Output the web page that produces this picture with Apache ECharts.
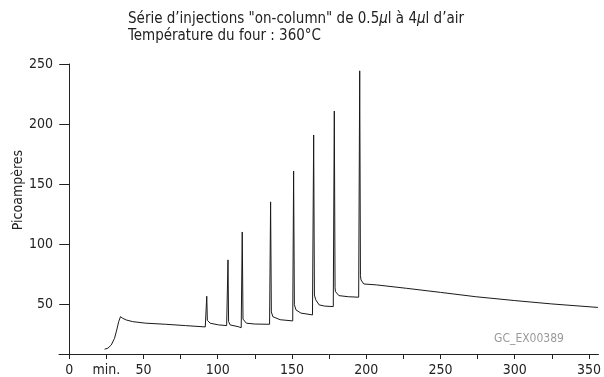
<!DOCTYPE html>
<html>
<head>
<meta charset="utf-8">
<script src="https://cdn.jsdelivr.net/npm/echarts@6/dist/echarts.min.js"></script>
<style>
	html, body { margin: 0; padding: 0; background: #fff; }
	#chart { width: 604px; height: 377px; }
</style>
</head>
<body>
<div id="chart"></div>
<script>
var times = [
	23.8, 26.0, 28.3, 30.5, 32.0, 33.3, 34.5, 36.0, 38.3, 42.7, 51.6, 64.9, 78.3, 91.6,
	92.3, 92.6, 93.0, 94.9, 100.5, 106.0,
	106.7, 106.9, 107.3, 108.3, 113.8, 115.8,
	116.3, 116.5, 117.0, 119.3, 125.0, 134.9,
	135.4, 135.6, 136.1, 137.1, 142.0, 150.5,
	150.9, 151.1, 151.6, 152.7, 156.0, 163.8,
	164.3, 164.6, 165.1, 166.0, 168.3, 172.0, 177.8,
	178.3, 178.5, 179.0, 179.3, 181.6, 188.0, 194.9,
	195.4, 195.6, 196.1, 196.5, 198.3, 207.1, 227.1, 250.0, 273.8, 300.0, 325.0, 356.0
];
var picoamps = [
	13.0, 13.8, 16.5, 22.1, 29.0, 35.9, 40.0, 38.7, 37.3, 35.9, 34.6, 33.7, 32.6, 31.5,
	31.4, 57.0, 37.0, 34.6, 33.2, 32.6,
	32.5, 87.2, 36.0, 33.2, 31.7, 30.9,
	31.0, 110.4, 38.0, 34.6, 33.9, 33.7,
	33.6, 135.4, 44.0, 40.0, 37.5, 36.5,
	36.3, 161.1, 50.0, 45.6, 43.0, 41.5,
	41.3, 191.0, 58.0, 54.0, 49.8, 48.8, 48.4,
	48.3, 210.9, 64.0, 60.8, 57.5, 56.6, 56.2,
	56.1, 244.3, 74.0, 70.5, 67.2, 66.4, 63.6, 60.2, 56.6, 53.4, 50.6, 47.7
];
var xTicks = [0, 25, 50, 75, 100, 125, 150, 175, 200, 225, 250, 275, 300, 325, 350];
var xLabels = [0, 25, 50, 100, 150, 200, 250, 300, 350];
var yTicks = [50, 100, 150, 200, 250];

var fontFamily = '"Liberation Sans Narrow", "DejaVu Sans Condensed", "Liberation Sans", sans-serif';
var ink = '#222';

var seriesData = [];
for (var i = 0; i < times.length; i++) {
	seriesData.push([times[i], picoamps[i]]);
}

var gcEchart = echarts.init(document.getElementById('chart'), null, { renderer: 'canvas' });
var gcOption = {
	animation: false,
	backgroundColor: '#fff',
	textStyle: { fontFamily: fontFamily },
	title: {
		left: 128,
		top: 11,
		padding: 0,
		text: 'Série d\u2019injections "on-column" de 0.5{i|\u03bc}l à 4{i|\u03bc}l d\u2019air\nTempérature du four : 360°C',
		textStyle: {
			fontFamily: fontFamily,
			fontSize: 15,
			lineHeight: 17,
			fontWeight: 'normal',
			color: ink,
			rich: {
				i: { fontFamily: fontFamily, fontSize: 15, fontStyle: 'italic', color: ink }
			}
		}
	},
	graphic: [{
		type: 'text',
		x: 18,
		y: 190,
		rotation: Math.PI / 2,
		style: {
			text: 'Picoampères',
			fontFamily: fontFamily,
			fontSize: 14,
			fill: ink,
			textAlign: 'center',
			textVerticalAlign: 'middle'
		}
	}, {
		type: 'text',
		x: 529,
		y: 339,
		style: {
			text: 'GC_EX00389',
			fontFamily: fontFamily,
			fontSize: 12,
			fill: '#9a9a9a',
			textAlign: 'center',
			textVerticalAlign: 'middle'
		}
	}],
	grid: {
		left: 59,
		right: 0,
		top: 64,
		bottom: 23,
		containLabel: false
	},
	xAxis: {
		type: 'value',
		min: -6.9,
		max: 356.4,
		axisLine: { onZero: false, lineStyle: { color: ink, width: 1 } },
		axisTick: { show: true, length: 5, customValues: xTicks, lineStyle: { color: ink } },
		axisLabel: {
			customValues: xLabels,
			margin: 9,
			fontSize: 14,
			color: ink,
			fontFamily: fontFamily,
			formatter: function(v) {
				return v === 25 ? 'min.' : String(v);
			}
		},
		splitLine: { show: false }
	},
	yAxis: {
		type: 'value',
		min: 9,
		max: 250,
		axisLine: { show: true, onZero: true, lineStyle: { color: ink, width: 1 } },
		axisTick: { show: true, length: 10, customValues: yTicks, lineStyle: { color: ink } },
		axisLabel: {
			customValues: yTicks,
			margin: 6,
			fontSize: 14,
			color: ink,
			fontFamily: fontFamily
		},
		splitLine: { show: false }
	},
	series: [{
		name: 'FID',
		type: 'line',
		showSymbol: false,
		symbol: 'none',
		lineStyle: { color: '#1a1a1a', width: 1 },
		data: seriesData
	}]
};
gcEchart.setOption(gcOption);
</script>
</body>
</html>
